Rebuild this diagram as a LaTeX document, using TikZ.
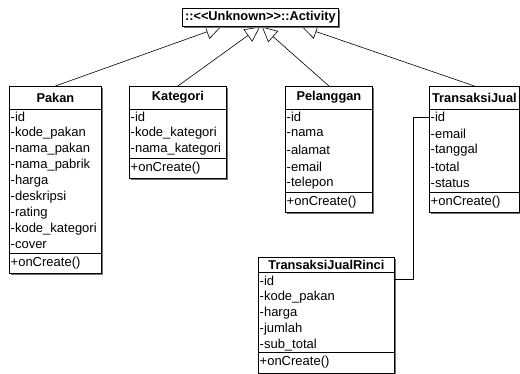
\documentclass[tikz,border=0pt]{standalone}
\usepackage{fontspec}
\setmainfont{Liberation Sans}
\newfontfamily\umlfont{Liberation Sans}
\usetikzlibrary{arrows.meta,calc,shadows}
\pgfdeclarelayer{bg}
\pgfsetlayers{bg,main}
\begin{document}
\begin{tikzpicture}[x=1pt,y=-1pt,
  box/.style={draw, fill=white, line width=0.8pt, inner sep=0pt, anchor=north west,
    drop shadow={shadow xshift=1.2pt, shadow yshift=-1.2pt, fill=black!55, opacity=1}},
  ttl/.style={font=\umlfont\fontsize{12.8}{14}\selectfont\bfseries, inner sep=0pt},
  attr/.style={font=\umlfont\fontsize{13}{14}\selectfont, inner sep=0pt, anchor=west},
  sepline/.style={line width=0.8pt},
  gen/.style={line width=0.6pt, -{Triangle[open, length=15pt, width=15pt, fill=white]}},
  link/.style={line width=0.8pt}]
\useasboundingbox (0,0) rectangle (520,374);

% Activity
\node[box, minimum width=156pt, minimum height=18pt] (act) at (182,8) {};
\node[ttl] (actt) at (act.center) {::<<Unknown>>::Activity};

% Pakan
\node[box, minimum width=92pt, minimum height=187pt] (pakan) at (9,86) {};
\node[ttl] (pakant) at ($(pakan.north)+(0,11.5)$) {Pakan};
\draw[sepline] ($(pakan.north west)+(0,23)$) -- ($(pakan.north east)+(0,23)$);
\foreach \t [count=\i] in {-id,-kode\_pakan,-nama\_pakan,-nama\_pabrik,-harga,-deskripsi,-rating,-kode\_kategori,-cover}
  \node[attr] (pakan\i) at ($(pakan.north west)+(1.5,15+16*\i)$) {\t};
\draw[sepline] ($(pakan.north west)+(0,167)$) -- ($(pakan.north east)+(0,167)$);
\node[attr] (pakanm) at ($(pakan.north west)+(1.5,177)$) {+onCreate()};

% Kategori
\node[box, minimum width=97pt, minimum height=92pt] (kat) at (129,86) {};
\node[ttl] (katt) at ($(kat.north)+(0,11.5)$) {Kategori};
\draw[sepline] ($(kat.north west)+(0,23)$) -- ($(kat.north east)+(0,23)$);
\foreach \t [count=\i] in {-id,-kode\_kategori,-nama\_kategori}
  \node[attr] (kat\i) at ($(kat.north west)+(1.5,15+16*\i)$) {\t};
\draw[sepline] ($(kat.north west)+(0,72)$) -- ($(kat.north east)+(0,72)$);
\node[attr] (katm) at ($(kat.north west)+(1.5,82)$) {+onCreate()};

% Pelanggan
\node[box, minimum width=87pt, minimum height=126pt] (pel) at (285,86) {};
\node[ttl] (pelt) at ($(pel.north)+(0,11.5)$) {Pelanggan};
\draw[sepline] ($(pel.north west)+(0,23)$) -- ($(pel.north east)+(0,23)$);
\foreach \t [count=\i] in {-id,-nama,-alamat,-email,-telepon}
  \node[attr] (pel\i) at ($(pel.north west)+(1.5,14.5+16.5*\i)$) {\t};
\draw[sepline] ($(pel.north west)+(0,106)$) -- ($(pel.north east)+(0,106)$);
\node[attr] (pelm) at ($(pel.north west)+(1.5,116)$) {+onCreate()};

% TransaksiJual
\node[box, minimum width=90pt, minimum height=126pt] (tj) at (429,86) {};
\node[ttl] (tjt) at ($(tj.north)+(0,11.5)$) {TransaksiJual};
\draw[sepline] ($(tj.north west)+(0,23)$) -- ($(tj.north east)+(0,23)$);
\foreach \t [count=\i] in {-id,-email,-tanggal,-total,-status}
  \node[attr] (tj\i) at ($(tj.north west)+(1.5,14.5+16.5*\i)$) {\t};
\draw[sepline] ($(tj.north west)+(0,106)$) -- ($(tj.north east)+(0,106)$);
\node[attr] (tjm) at ($(tj.north west)+(1.5,116)$) {+onCreate()};

% TransaksiJualRinci
\node[box, minimum width=136pt, minimum height=116pt] (tjr) at (258,257) {};
\node[ttl] (tjrt) at ($(tjr.north)+(0,7.5)$) {TransaksiJualRinci};
\draw[sepline] ($(tjr.north west)+(0,15)$) -- ($(tjr.north east)+(0,15)$);
\foreach \t [count=\i] in {-id,-kode\_pakan,-harga,-jumlah,-sub\_total}
  \node[attr] (tjr\i) at ($(tjr.north west)+(1.5,8+16*\i)$) {\t};
\draw[sepline] ($(tjr.north west)+(0,95)$) -- ($(tjr.north east)+(0,95)$);
\node[attr] (tjrm) at ($(tjr.north west)+(1.5,105.5)$) {+onCreate()};

% connectors
\coordinate (bend) at (413,0);
\begin{pgfonlayer}{bg}
\draw[gen] (pakan.north) -- ($(act.south west)+(39,0)$);
\draw[gen] (kat.north) -- ($(act.south west)+(78,0)$);
\draw[gen] (pel.north) -- ($(act.south west)+(80,0)$);
\draw[gen] (tj.north) -- ($(act.south west)+(120,0)$);
\end{pgfonlayer}
\draw[link] ($(tjr.north east)+(0,22)$) -| (bend |- tj1) -- (tj.west |- tj1);
\end{tikzpicture}
\end{document}
